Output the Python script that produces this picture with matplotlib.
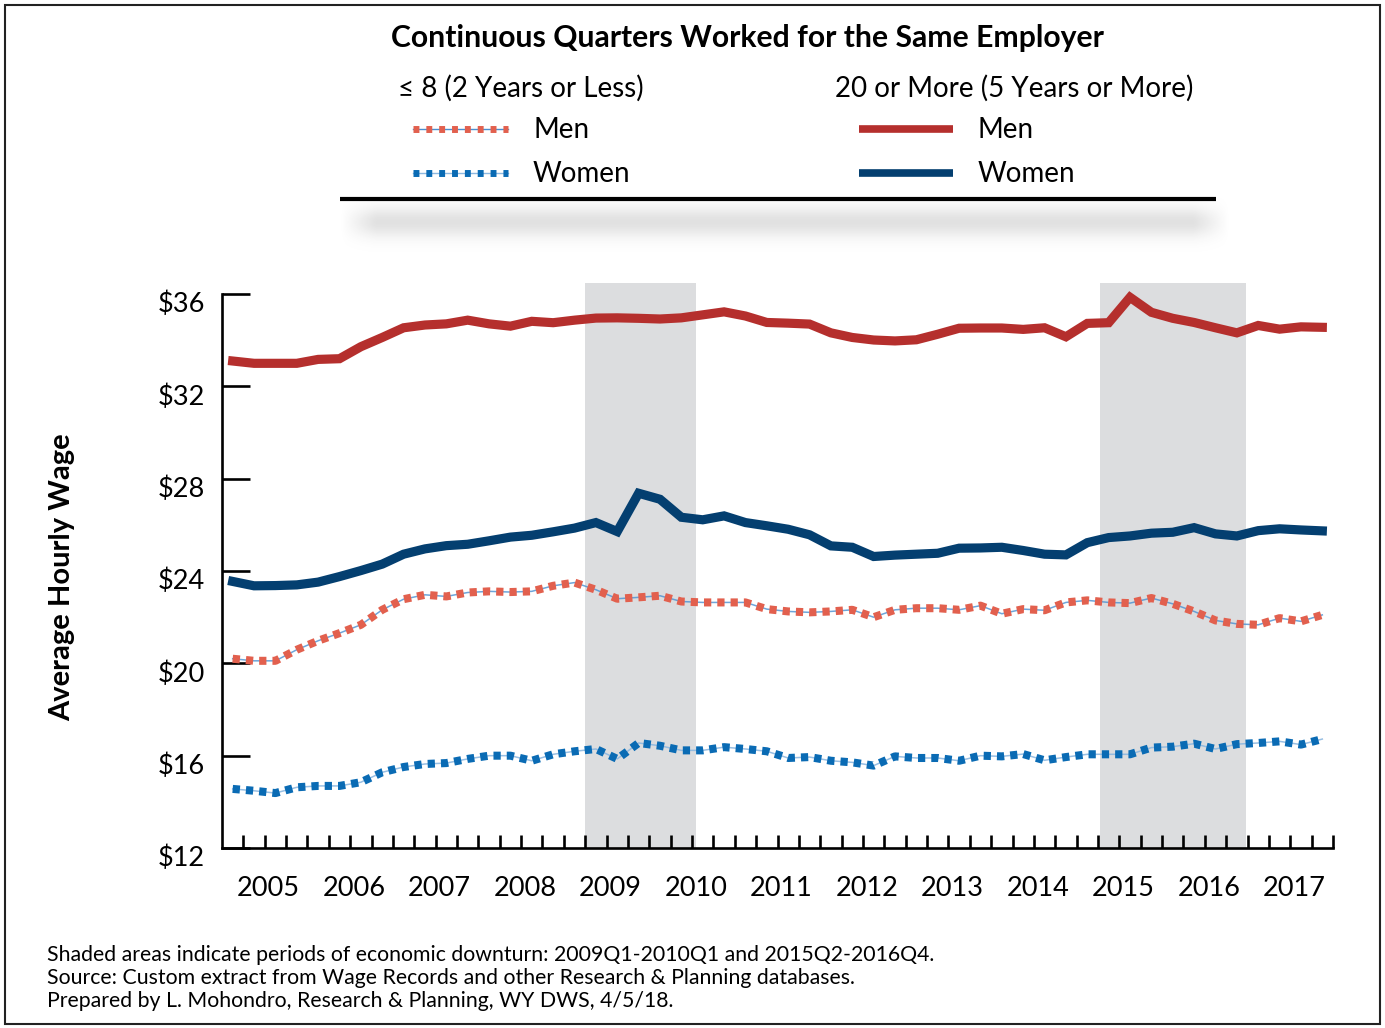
import numpy as np
import matplotlib
matplotlib.use("Agg")
import matplotlib.pyplot as plt
from matplotlib.patches import Rectangle
from matplotlib.transforms import ScaledTranslation

plt.rcParams['font.family'] = ['Lato', 'DejaVu Sans']

# ---------------- data ----------------
years = list(range(2005, 2018))
quarters = [f"{y}Q{q}" for y in years for q in range(1, 5)]

men_long = [33.10, 33.00, 33.00, 33.00, 33.17, 33.20, 33.72, 34.12, 34.54, 34.66,
            34.71, 34.87, 34.71, 34.61, 34.82, 34.76, 34.87, 34.96, 34.97, 34.95,
            34.92, 34.97, 35.10, 35.23, 35.05, 34.77, 34.74, 34.70, 34.32, 34.12,
            34.01, 33.97, 34.02, 34.26, 34.52, 34.53, 34.53, 34.47, 34.54, 34.15,
            34.73, 34.76, 35.86, 35.21, 34.95, 34.77, 34.54, 34.32, 34.64, 34.48,
            34.58, 34.56]
women_long = [23.55, 23.36, 23.37, 23.40, 23.52, 23.76, 24.02, 24.30, 24.73, 24.96,
              25.10, 25.16, 25.31, 25.47, 25.55, 25.70, 25.86, 26.10, 25.71, 27.37,
              27.11, 26.33, 26.22, 26.39, 26.10, 25.96, 25.81, 25.57, 25.09, 25.03,
              24.63, 24.69, 24.73, 24.77, 24.99, 25.00, 25.03, 24.89, 24.73, 24.70,
              25.23, 25.45, 25.52, 25.64, 25.68, 25.88, 25.61, 25.52, 25.75, 25.83,
              25.78, 25.74]
men_short = [20.20, 20.11, 20.11, 20.59, 20.98, 21.31, 21.67, 22.32, 22.78, 22.97,
             22.90, 23.07, 23.12, 23.09, 23.12, 23.36, 23.50, 23.19, 22.80, 22.86,
             22.93, 22.68, 22.64, 22.64, 22.64, 22.35, 22.25, 22.21, 22.25, 22.32,
             22.00, 22.32, 22.39, 22.39, 22.32, 22.50, 22.15, 22.35, 22.30, 22.64,
             22.73, 22.64, 22.61, 22.83, 22.58, 22.25, 21.86, 21.71, 21.67, 21.96,
             21.82, 22.10]
women_short = [14.56, 14.48, 14.38, 14.63, 14.69, 14.69, 14.85, 15.28, 15.51, 15.64,
               15.68, 15.86, 16.00, 16.00, 15.78, 16.06, 16.19, 16.29, 15.86, 16.55,
               16.43, 16.23, 16.23, 16.37, 16.29, 16.19, 15.90, 15.94, 15.78, 15.71,
               15.57, 15.97, 15.90, 15.90, 15.78, 16.00, 15.97, 16.07, 15.80, 15.94,
               16.06, 16.06, 16.06, 16.35, 16.39, 16.52, 16.29, 16.50, 16.55, 16.62,
               16.48, 16.72]

downturns = [(2009.25, 2010.55), (2015.27, 2016.98)]
y_ticks = [12, 16, 20, 24, 28, 32, 36]

# ---------------- colors ----------------
C_RED = '#B52F2D'
C_NAVY = '#043F70'
C_SALMON = '#E2604E'
C_BLUE = '#0A6BB4'
C_SHADE = '#DCDDDF'

W, H = 1385, 1028
fig = plt.figure(figsize=(W / 100, H / 100), dpi=100)

# main axes
ax = fig.add_axes([222 / W, 1 - 848 / H, 1111 / W, 565 / H])
x = np.array([int(q[:4]) + (int(q[-1]) - 1) / 4 + 0.125 for q in quarters])

for a, b in downturns:
    ax.axvspan(a, b, color=C_SHADE, lw=0, zorder=0)

lw_solid = 6.6
lw_dot = 5.8
dot_style = (0, (0.9, 0.75))

ax.plot(x, men_long, color=C_RED, lw=lw_solid, solid_joinstyle='miter', zorder=3)
ax.plot(x, women_long, color=C_NAVY, lw=lw_solid, solid_joinstyle='miter', zorder=3)

ax.plot(x, men_short, color='#4A8FD0', lw=1.1, alpha=0.8, zorder=2)
ax.plot(x, men_short, color=C_SALMON, lw=lw_dot, linestyle=dot_style,
        dash_capstyle='butt', zorder=3)
ax.plot(x, women_short, color='#8DB8E0', lw=1.1, alpha=0.9, zorder=2)
ax.plot(x, women_short, color=C_BLUE, lw=lw_dot, linestyle=dot_style,
        dash_capstyle='butt', zorder=3)

ax.set_xlim(2005, 2018)
ax.set_ylim(12, 36.48)
for s in ['top', 'right']:
    ax.spines[s].set_visible(False)
for s in ['left', 'bottom']:
    ax.spines[s].set_linewidth(1.9)
    ax.spines[s].set_color('black')
ax.spines['left'].set_bounds(12, 36)

ax.set_yticks(y_ticks)
ax.set_yticklabels([f"${v}" for v in y_ticks])
ax.tick_params(axis='y', direction='in', length=20, width=1.9, labelsize=19.5, pad=12)
for lab in ax.get_yticklabels():
    lab.set_transform(lab.get_transform() + ScaledTranslation(0, -0.08, fig.dpi_scale_trans))

ax.xaxis.remove_overlapping_locs = False
major_x = [2005 + k / 4 for k in range(1, 53)]
ax.set_xticks(major_x)
ax.set_xticklabels([])
ax.tick_params(axis='x', which='major', direction='in', length=9.5, width=1.9)
ax.set_xticks([yv + 0.5 for yv in years], minor=True)
ax.set_xticklabels([str(yv) for yv in years], minor=True)
ax.tick_params(axis='x', which='minor', length=0, labelsize=19.5, pad=20)
for lab in ax.get_xticklabels(minor=True):
    lab.set_transform(lab.get_transform() + ScaledTranslation(0.04, 0, fig.dpi_scale_trans))

ax.set_facecolor('none')

# y label
fig.text(62 / W, 1 - 577 / H, 'Average Hourly Wage', rotation=90, ha='center', va='center',
         fontsize=21, fontweight='bold')

# overlay axes in pixel coordinates for legend / decorations
ov = fig.add_axes([0, 0, 1, 1], zorder=-1)
ov.axis('off')

leg = fig.add_axes([0, 0, 1, 1], zorder=5)
leg.set_xlim(0, W)
leg.set_ylim(H, 0)
leg.axis('off')

# outer frame
leg.add_patch(Rectangle((5, 5), W - 10, H - 9, fill=False, ec='#222222', lw=1.5))

# legend title & headers
leg.text(747, 38, 'Continuous Quarters Worked for the Same Employer', ha='center', va='center',
         fontsize=21.7, fontweight='bold')
leg.text(398, 88, '≤ 8 (2 Years or Less)', ha='left', va='center', fontsize=20)
leg.text(835, 88, '20 or More (5 Years or More)', ha='left', va='center', fontsize=20)

# legend samples
for yy, col, thin in [(129, C_SALMON, '#4A8FD0'), (173, C_BLUE, '#8DB8E0')]:
    leg.plot([413, 508], [yy, yy], color=thin, lw=1.0)
    leg.plot([413, 508], [yy, yy], color=col, lw=5.0, linestyle=(0, (0.85, 1.0)),
             dash_capstyle='butt')
for yy, col in [(129, C_RED), (173, C_NAVY)]:
    leg.plot([859, 953], [yy, yy], color=col, lw=5.5, solid_capstyle='butt')
leg.text(533, 130, 'Men', ha='left', va='center', fontsize=20)
leg.text(533, 174, 'Women', ha='left', va='center', fontsize=20)
leg.text(978, 130, 'Men', ha='left', va='center', fontsize=20)
leg.text(978, 174, 'Women', ha='left', va='center', fontsize=20)

# separator line with soft shadow
leg.plot([340, 1216], [199, 199], color='black', lw=3.0, solid_capstyle='butt')
gx = np.linspace(320, 1250, 400)
gy = np.linspace(198, 262, 80)
GX, GY = np.meshgrid(gx, gy)
ax_prof = np.clip((np.minimum(GX - 340, 1230 - GX)) / 35, 0, 1)
ay_prof = np.exp(-((GY - 222) / 15) ** 2)
alpha = 0.26 * ax_prof * ay_prof
img = np.zeros((len(gy), len(gx), 4))
img[..., :3] = 0.55
img[..., 3] = alpha
ov.imshow(img, extent=(320, 1250, 262, 198), aspect='auto', interpolation='bilinear')
ov.set_xlim(0, W)
ov.set_ylim(H, 0)

# footnotes
notes = ["Shaded areas indicate periods of economic downturn: 2009Q1-2010Q1 and 2015Q2-2016Q4.",
         "Source: Custom extract from Wage Records and other Research & Planning databases.",
         "Prepared by L. Mohondro, Research & Planning, WY DWS, 4/5/18."]
for i, t in enumerate(notes):
    leg.text(47, 955 + 23 * i, t, ha='left', va='center', fontsize=15.3)

fig.savefig('out.png', dpi=100)
